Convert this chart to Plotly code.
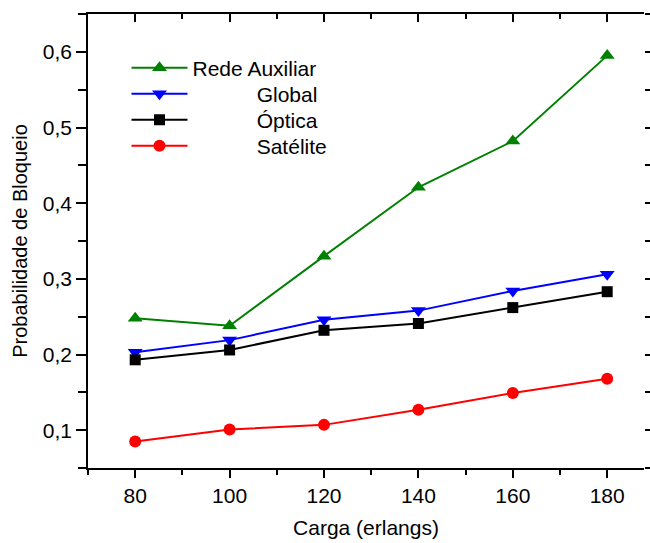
import plotly.graph_objects as go

carga = [80, 100, 120, 140, 160, 180]
rede_auxiliar = [0.248, 0.238, 0.330, 0.421, 0.482, 0.595]
global_ = [0.203, 0.219, 0.246, 0.258, 0.284, 0.306]
optica = [0.193, 0.206, 0.232, 0.241, 0.262, 0.283]
satelite = [0.085, 0.101, 0.107, 0.127, 0.149, 0.168]

NB = "\u00a0"
series = [
    ("Rede Auxiliar", rede_auxiliar, "#008000", "triangle-up", 13),
    (NB * 11 + "Global", global_, "#0000FF", "triangle-down", 13),
    (NB * 11 + "Óptica", optica, "#000000", "square", 11),
    (NB * 11 + "Satélite", satelite, "#FF0000", "circle", 12),
]
legend_rows_px = [68, 94, 120, 146]  # legend row centres (pixels from top)

FONT = "Liberation Sans, Arial, sans-serif"
FS = 21
W, H = 650, 543
ML, MR, MT, MB = 88, 6, 14, 75
PW = W - ML - MR
PH = H - MT - MB
XR = [70, 70 + PW / 4.72]
YR = [0.05, 0.65]

fig = go.Figure()
legends = {}
for i, (name, vals, color, sym, sz) in enumerate(series):
    lg = "legend" if i == 0 else f"legend{i + 1}"
    fig.add_trace(go.Scatter(
        x=carga, y=vals, name=name, mode="lines+markers",
        line=dict(color=color, width=2),
        marker=dict(symbol=sym, size=sz, color=color),
        legend=lg,
    ))
    legends[lg] = dict(
        x=(126.5 - ML) / PW, y=(H - MB - legend_rows_px[i]) / PH,
        xanchor="left", yanchor="middle",
        bgcolor="rgba(0,0,0,0)", borderwidth=0,
        font=dict(family=FONT, size=FS, color="black"),
        itemwidth=56,
    )
# empty helper trace so the frame axes are drawn
fig.add_trace(go.Scatter(x=[None], y=[None], xaxis="x2", yaxis="y2", showlegend=False, hoverinfo="skip"))

fig.update_layout(
    width=W, height=H,
    margin=dict(l=ML, r=MR, t=MT, b=MB, autoexpand=False),
    paper_bgcolor="white", plot_bgcolor="white",
    separators=",.",
    font=dict(family=FONT, size=FS, color="black"),
    showlegend=True,
    **legends,
    xaxis=dict(
        range=XR, dtick=20, tick0=80, automargin=False,
        showgrid=False, zeroline=False,
        showline=True, linecolor="black", linewidth=1.5,
        ticks="outside", ticklen=8, tickwidth=1.5, tickcolor="black",
        minor=dict(dtick=10, tick0=70, ticks="outside", ticklen=5, tickwidth=1.5, tickcolor="black"),
        tickfont=dict(family=FONT, size=FS),
        title=dict(text="Carga (erlangs)", font=dict(family=FONT, size=FS), standoff=14),
    ),
    yaxis=dict(
        range=YR, dtick=0.1, tick0=0.1, tickformat=".1f", automargin=False,
        showgrid=False, zeroline=False,
        showline=True, linecolor="black", linewidth=1.5,
        ticks="outside", ticklen=10, tickwidth=1.5, tickcolor="black",
        minor=dict(dtick=0.05, tick0=0.05, ticks="outside", ticklen=8, tickwidth=1.5, tickcolor="black"),
        tickfont=dict(family=FONT, size=FS),
        title=dict(text="Probabilidade de Bloqueio", font=dict(family=FONT, size=20), standoff=10),
    ),
    xaxis2=dict(
        overlaying="x", side="top", anchor="y2", range=XR, dtick=20, tick0=80, automargin=False,
        showgrid=False, zeroline=False, showticklabels=False,
        showline=True, linecolor="black", linewidth=1.5,
        ticks="inside", ticklen=8, tickwidth=1.5, tickcolor="black",
        minor=dict(dtick=10, tick0=70, ticks="inside", ticklen=5, tickwidth=1.5, tickcolor="black"),
    ),
    yaxis2=dict(
        overlaying="y", side="right", anchor="x2", range=YR, dtick=0.1, tick0=0.1, automargin=False,
        showgrid=False, zeroline=False, showticklabels=False,
        showline=False,
        ticks="outside", ticklen=8, tickwidth=1.5, tickcolor="black",
        minor=dict(dtick=0.05, tick0=0.05, ticks="outside", ticklen=5, tickwidth=1.5, tickcolor="black"),
    ),
)

fig.write_html("out.html")
